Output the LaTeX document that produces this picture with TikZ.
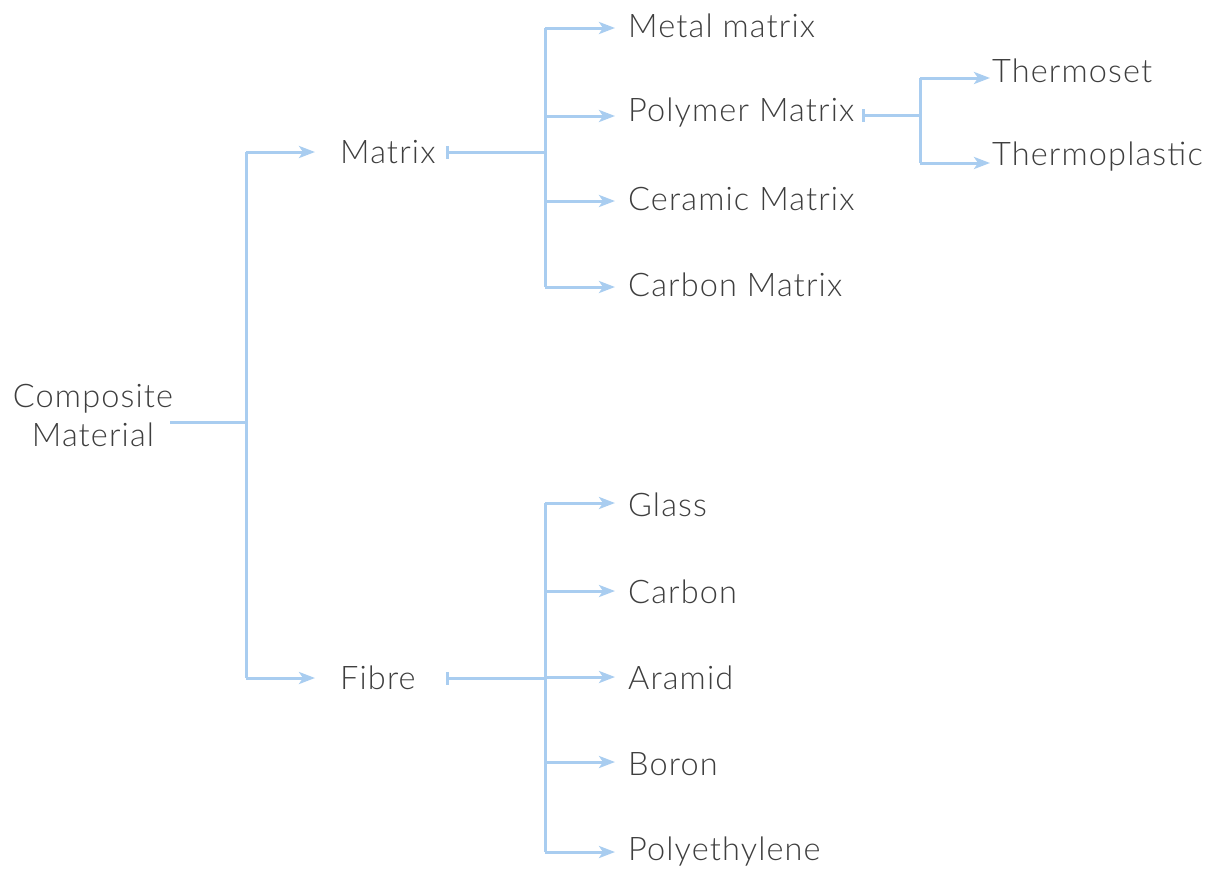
\documentclass[tikz,border=0pt]{standalone}
\usepackage{fontspec}
\setmainfont{Lato}[UprightFont=* Light, LetterSpace=3.5]
\usetikzlibrary{arrows.meta}
\definecolor{linkblue}{HTML}{A9CDF0}
\definecolor{labelgray}{HTML}{3E3E3E}
\tikzset{
  lbl/.style={anchor=west, inner sep=0pt, text=labelgray, font=\fontsize{32.5}{39}\selectfont},
  link/.style={draw=linkblue, line width=3pt},
  arr/.style={link, -{Stealth[length=16pt,width=12pt,inset=4pt]}},
  teearr/.style={link, {Bar[width=13pt]}-},
}
\begin{document}
\begin{tikzpicture}[x=1pt,y=-1pt]
\useasboundingbox (0,0) rectangle (1225,871);
% root
\node[lbl, anchor=center, align=center] (root) at (93,415) {Composite\\Material};
% first level
\node[lbl] (mat) at (340,152) {Matrix};
\node[lbl] (fib) at (340,678) {Fibre};
% matrix kinds
\node[lbl] (m1) at (628,26) {Metal matrix};
\node[lbl] (m2) at (628,113) {Polymer Matrix};
\node[lbl] (m3) at (628,199) {Ceramic Matrix};
\node[lbl] (m4) at (628,285) {Carbon Matrix};
% polymer kinds
\node[lbl] (p1) at (992,71) {Thermoset};
\node[lbl] (p2) at (992,157) {Thermoplastic};
% fibre kinds
\node[lbl] (f1) at (628,505) {Glass};
\node[lbl] (f2) at (628,592) {Carbon};
\node[lbl] (f3) at (628,678) {Aramid};
\node[lbl] (f4) at (628,764) {Boron};
\node[lbl] (f5) at (628,852) {Polyethylene};
% branch points
\coordinate (rj) at (246,422);
\coordinate (mj) at (545,152);
\coordinate (fj) at (545,678);
\coordinate (pj) at (920,115);
\coordinate (mstart) at (446,152);
\coordinate (fstart) at (446,678);
\coordinate (pstart) at (862,115);
\coordinate (mtip) at (315,152);
\coordinate (ftip) at (315,678);
% root tree
\draw[link] (170,422) -- (rj);
\draw[link] (246,152) -- (246,678);
\draw[arr] (246,152) -- (mtip);
\draw[arr] (246,678) -- (ftip);
% matrix tree
\draw[teearr] (mstart) -- (mj);
\draw[link] (545,28) -- (545,287);
\foreach \n/\y in {m1/28, m2/116, m3/201, m4/287}
  \draw[arr] (545,\y) -- (615,\y);
% polymer tree
\draw[teearr] (pstart) -- (pj);
\draw[link] (920,78) -- (920,163);
\draw[arr] (920,78) -- (990,78);
\draw[arr] (920,163) -- (990,163);
% fibre tree
\draw[teearr] (fstart) -- (fj);
\draw[link] (545,503) -- (545,852);
\foreach \n/\y in {f1/503, f2/591, f3/677, f4/762, f5/852}
  \draw[arr] (545,\y) -- (615,\y);
\end{tikzpicture}
\end{document}
